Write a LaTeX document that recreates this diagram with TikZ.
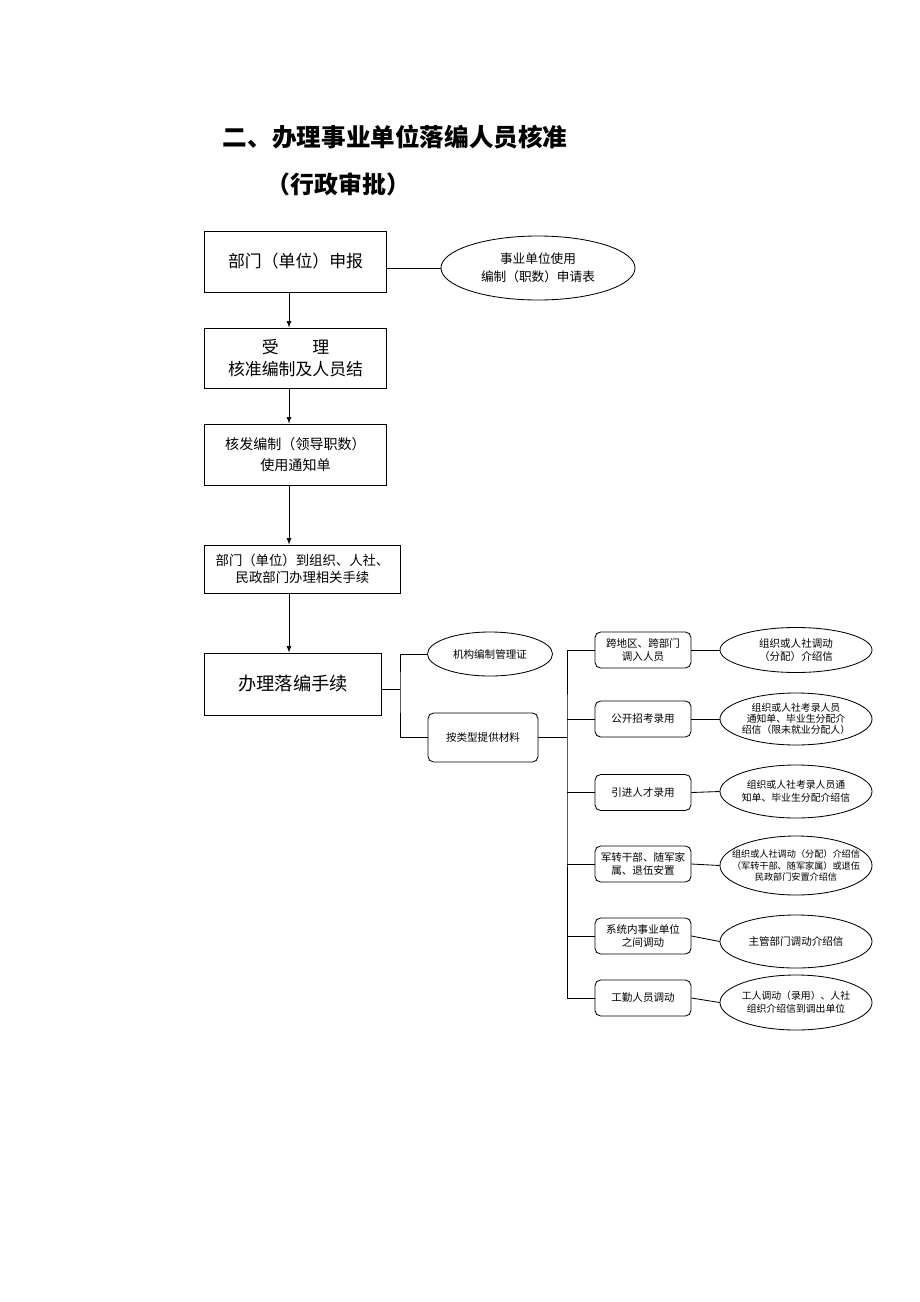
\documentclass[tikz,border=0pt]{standalone}
\usepackage{fontspec}
\setmainfont{Noto Sans CJK SC}
\usetikzlibrary{shapes.geometric,arrows}

\tikzset{
  procbox/.style={draw,rectangle,inner sep=0pt,align=center,line width=0.7pt,font=\fontsize{12}{16}\selectfont},
  docell/.style={draw,ellipse,inner xsep=-12pt,inner ysep=0pt,align=center,line width=0.6pt,font=\fontsize{7.5}{9}\selectfont},
  catbox/.style={draw,rectangle,rounded corners=4pt,inner sep=0pt,align=center,line width=0.6pt,
    minimum width=2.4cm,minimum height=0.9cm,font=\fontsize{7.5}{9}\selectfont},
  link/.style={line width=0.6pt},
}

\begin{document}
\begin{tikzpicture}[x=0.025cm,y=-0.025cm]
                \useasboundingbox (0,0) rectangle (920,1302);
                % title
                \node[anchor=west,font=\fontsize{17.5}{20}\selectfont\bfseries] (title) at (218,137) {二、办理事业单位落编人员核准};
                \node[anchor=west,font=\fontsize{17}{20}\selectfont\bfseries] (subtitle) at (262,184) {（行政审批）};

                % main column
                \node[procbox,minimum width=4.525cm,minimum height=1.525cm] (b1) at (295.5,261.5) {部门（单位）申报};
                \node[procbox,minimum width=4.525cm,minimum height=1.5cm] (b2) at (295.5,358) {受\quad\quad 理\\核准编制及人员结};
                \node[procbox,minimum width=4.525cm,minimum height=1.525cm,font=\fontsize{10}{15}\selectfont] (b3) at (295.5,454.5) {核发编制（领导职数）\\使用通知单};
                \node[procbox,minimum width=4.875cm,minimum height=1.2cm,font=\fontsize{9.5}{12.5}\selectfont] (b4) at (302.5,569) {部门（单位）到组织、人社、\\民政部门办理相关手续};
                \node[procbox,minimum width=4.4cm,minimum height=1.55cm,font=\fontsize{13}{16}\selectfont] (b5) at (293,684) {办理落编手续};

                \node[docell,minimum width=4.85cm,minimum height=1.6cm,font=\fontsize{9}{13}\selectfont] (e0) at (538,268) {事业单位使用\\编制（职数）申请表};
                \draw[link] (e0.west -| b1.east) -- (e0.west);

                % arrows down the column
                \coordinate (axis) at (289,0);
                \draw[-latex,link] (b1.south -| axis) -- (b2.north -| axis);
                \draw[-latex,link] (b2.south -| axis) -- (b3.north -| axis);
                \draw[-latex,link] (b3.south -| axis) -- (b4.north -| axis);
                \draw[-latex,link] (b4.south -| axis) -- (b5.north -| axis);

                % first fork
                \node[docell,minimum width=3.125cm,minimum height=1.1cm] (cert) at (490,654) {机构编制管理证};
                \node[catbox,minimum width=2.75cm,minimum height=1.225cm] (mat) at (483,737.5) {按类型提供材料};
                \coordinate (j1) at (400,689);
                \draw[link] (j1 -| b5.east) -- (j1);
                \draw[link] (cert.west) -| (j1) |- (mat.west);

                % second fork
                \node[catbox] (c1) at (643,650) {跨地区、跨部门\\调入人员};
                \node[catbox] (c2) at (643,719) {公开招考录用};
                \node[catbox] (c3) at (643,792.5) {引进人才录用};
                \node[catbox] (c4) at (643,864) {军转干部、随军家\\属、退伍安置};
                \node[catbox] (c5) at (643,936) {系统内事业单位\\之间调动};
                \node[catbox] (c6) at (643,998) {工勤人员调动};

                \node[docell,minimum width=3.8cm,minimum height=1.125cm] (d1) at (796,650) {组织或人社调动\\（分配）介绍信};
                \node[docell,minimum width=3.8cm,minimum height=1.3cm,font=\fontsize{7}{8}\selectfont] (d2) at (796,719) {组织或人社考录人员\\通知单、毕业生分配介\\绍信（限未就业分配人）};
                \node[docell,minimum width=3.8cm,minimum height=1.325cm,font=\fontsize{7}{9}\selectfont] (d3) at (796,791.5) {组织或人社考录人员通\\知单、毕业生分配介绍信};
                \node[docell,minimum width=3.8cm,minimum height=1.475cm,font=\fontsize{6.5}{8}\selectfont] (d4) at (796,865.5) {组织或人社调动（分配）介绍信\\（军转干部、随军家属）或退伍\\民政部门安置介绍信};
                \node[docell,minimum width=3.8cm,minimum height=1.325cm] (d5) at (796,941.5) {主管部门调动介绍信};
                \node[docell,minimum width=3.8cm,minimum height=1.375cm,font=\fontsize{7}{9}\selectfont] (d6) at (796,1002.5) {工人调动（录用）、人社\\组织介绍信到调出单位};

                \coordinate (spine) at (567,737.5);
                \draw[link] (mat.east) -- (spine);
                \draw[link] (c1.west) -| (spine) |- (c6.west);
                \foreach \c in {c2,c3,c4,c5}
                    \draw[link] (\c.west) -- (\c.west -| spine);
                \foreach \i in {1,...,6}
                    \draw[link] (c\i.east) -- (d\i.west);
\end{tikzpicture}
\end{document}
